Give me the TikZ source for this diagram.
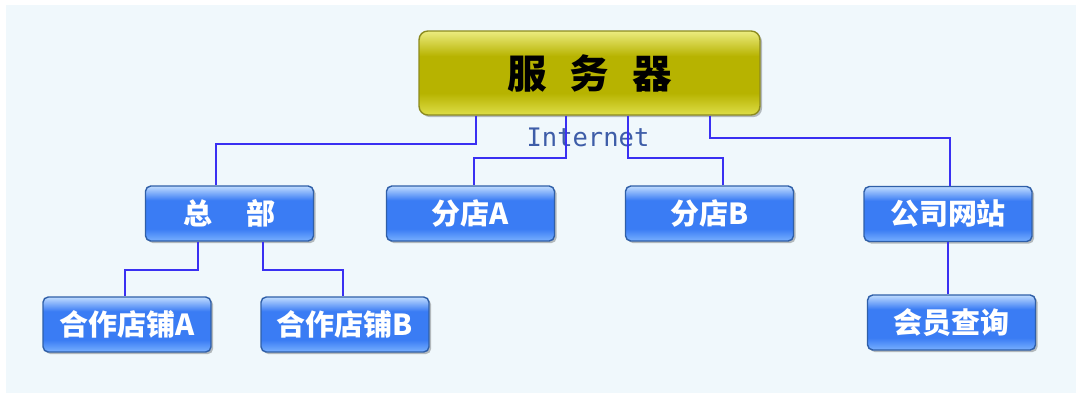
\documentclass[tikz,border=0pt]{standalone}
\usepackage{fontspec}
\newfontfamily\cjk{Noto Sans CJK SC}
\newfontfamily\netfont{DejaVu Sans Mono}
\usetikzlibrary{calc,shadows}

\definecolor{bgblue}{HTML}{F0F8FC}
\definecolor{linkblue}{HTML}{3A30F2}
\definecolor{nodetop}{HTML}{C0DCFF}
\definecolor{nodemid}{HTML}{3A7CF4}
\definecolor{nodebot}{HTML}{78B0FF}
\definecolor{nodeline}{HTML}{2F5FA8}
\definecolor{srvtop}{HTML}{ECEC80}
\definecolor{srvmid}{HTML}{B7B300}
\definecolor{srvbot}{HTML}{DEDE48}
\definecolor{srvline}{HTML}{8C8A1E}
\definecolor{nettext}{HTML}{3E5DA8}

% button looks
\pgfdeclareverticalshading{bluebtn}{100bp}{color(0bp)=(nodebot); color(25bp)=(nodebot); color(36bp)=(nodemid); color(62bp)=(nodemid); color(75bp)=(nodetop); color(100bp)=(nodetop)}
\pgfdeclareverticalshading{srvbtn}{100bp}{color(0bp)=(srvbot); color(25bp)=(srvbot); color(38bp)=(srvmid); color(60bp)=(srvmid); color(75bp)=(srvtop); color(100bp)=(srvtop)}

\tikzset{
  box/.style={rectangle, rounded corners=3pt, draw=nodeline, line width=0.8pt,
    shading=bluebtn, minimum width=3.36cm, minimum height=1.1cm, inner sep=0pt,
    text=white, font=\cjk\bfseries\fontsize{16.5}{18}\selectfont,
    drop shadow={shadow xshift=1.2pt, shadow yshift=-1.2pt, fill=black, opacity=0.25}},
  server/.style={box, shading=srvbtn, draw=srvline, rounded corners=5pt,
    minimum width=6.82cm, minimum height=1.68cm, text=black,
    font=\cjk\bfseries\fontsize{22.5}{24}\selectfont},
  link/.style={draw=linkblue, line width=1pt}
}

\begin{document}
\begin{tikzpicture}[x=0.02cm, y=-0.02cm]
    % page and background
    \useasboundingbox (0,0) rectangle (1076,396);
    \fill[white] (0,0) rectangle (1076,396);
    \fill[bgblue] (6,5) rectangle (1076,393);

    % server and branches
    \node[server] (srv) at (589.5,73) {服\hspace{0.58em}务\hspace{0.58em}器};
    \node[font=\netfont\fontsize{14.5}{16}\selectfont, text=nettext] (net) at (588,137) {Internet};

    \node[box] (zb)  at (229.5,213.5) {总\hspace{1.15em}部};
    \node[box] (fda) at (470.5,213.5) {分店A};
    \node[box] (fdb) at (709.5,213.5) {分店B};
    \node[box] (wz)  at (948,214)     {公司网站};

    \node[box] (hza) at (127,324.5)   {合作店铺A};
    \node[box] (hzb) at (345,324.5)   {合作店铺B};
    \node[box] (hy)  at (951.5,322.5) {会员查询};

    % lines
    \draw[link] ($(srv.south)+(-113.5,0)$) -- ++(0,28) -| ($(zb.north)+(-13.5,0)$);
    \draw[link] ($(srv.south)+(-23.5,0)$) -- ++(0,42) -| ($(fda.north)+(3.5,0)$);
    \draw[link] ($(srv.south)+(38.5,0)$) -- ++(0,42) -| ($(fdb.north)+(13.5,0)$);
    \draw[link] ($(srv.south)+(120.5,0)$) -- ++(0,22) -| ($(wz.north)+(2,0)$);
    \draw[link] ($(zb.south)+(-31.5,0)$) -- ++(0,28) -| ($(hza.north)+(-2,0)$);
    \draw[link] ($(zb.south)+(33.5,0)$) -- ++(0,28) -| ($(hzb.north)+(-2,0)$);
    \draw[link] (wz.south) -- (wz.south |- hy.north);

\end{tikzpicture}
\end{document}
